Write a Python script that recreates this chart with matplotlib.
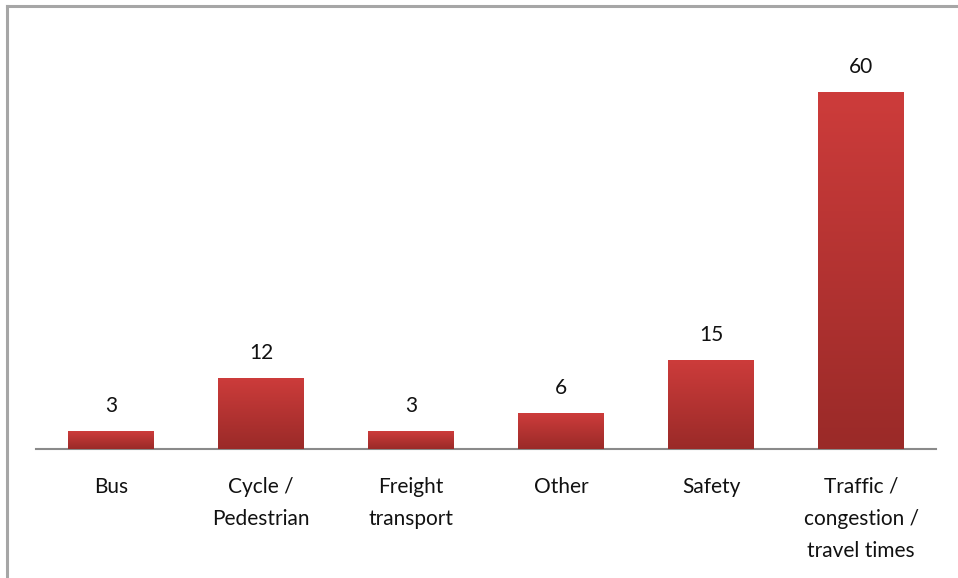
import matplotlib.pyplot as plt
import numpy as np
from matplotlib.lines import Line2D
from matplotlib.colors import LinearSegmentedColormap

categories = ['Bus', 'Cycle /\nPedestrian', 'Freight\ntransport', 'Other', 'Safety',
              'Traffic /\ncongestion /\ntravel times']
values = [3, 12, 3, 6, 15, 60]

plt.rcParams['font.family'] = ['Lato', 'DejaVu Sans']

W, H = 958, 578
fig = plt.figure(figsize=(W / 100, H / 100), dpi=100)
fig.patch.set_facecolor('white')

ymax = 70
ax = fig.add_axes([36 / W, (H - 449) / H, 900 / W, (449 - 32.5) / H])

x = np.arange(len(categories))
width = 0.573
bars = ax.bar(x, values, width=width, color='#b83331', zorder=2)

# vertical gradient on each bar
cmap = LinearSegmentedColormap.from_list('red_grad', ['#9a2a28', '#cd3c3b'])
grad = np.linspace(0, 1, 256).reshape(-1, 1)
for b in bars:
    x0, y0 = b.get_x(), b.get_y()
    im = ax.imshow(grad, cmap=cmap, aspect='auto', origin='lower',
                   extent=[x0, x0 + b.get_width(), y0, y0 + b.get_height()], zorder=3)
    im.set_clip_path(b)

for xi, v in zip(x, values):
    ax.text(xi, v + 4.2, str(v), ha='center', va='center', fontsize=15, color='#111111')

ax.set_xlim(-0.5, len(categories) - 0.5)
ax.set_ylim(0, ymax)
ax.set_xticks(x)
ax.set_xticklabels(categories, fontsize=15, color='#111111', linespacing=1.76)
ax.tick_params(axis='x', length=0, pad=20)
ax.set_yticks([])
for s in ['top', 'right', 'left']:
    ax.spines[s].set_visible(False)
ax.spines['bottom'].set_color('#8a8a8a')
ax.spines['bottom'].set_linewidth(1.5)

# outer chart frame (cropped on right and bottom)
fig.add_artist(Line2D([7 / W, 7 / W], [0, 1 - 6 / H], transform=fig.transFigure,
                      color='#a6a6a6', lw=2.2))
fig.add_artist(Line2D([7 / W, 1], [1 - 6 / H, 1 - 6 / H], transform=fig.transFigure,
                      color='#a6a6a6', lw=2.2))

fig.savefig('out.png', dpi=100)
